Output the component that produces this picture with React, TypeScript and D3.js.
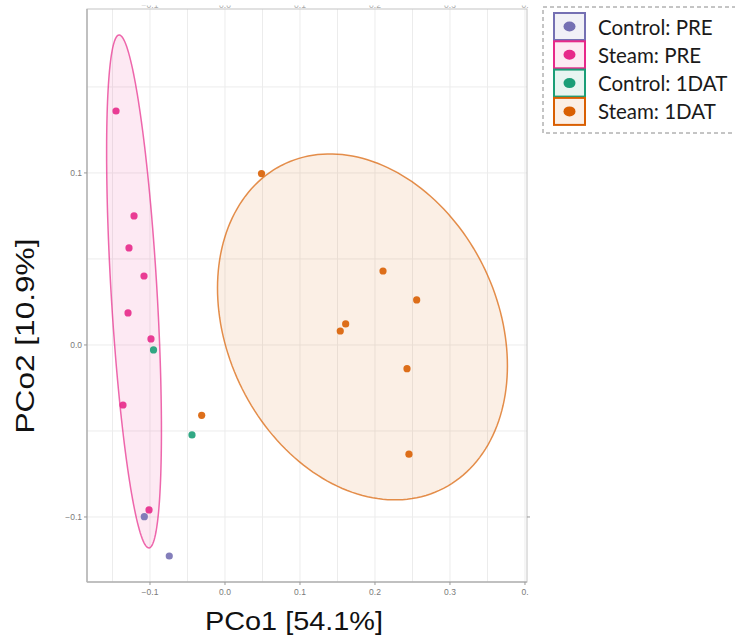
import * as d3 from 'd3';
import { useEffect, useRef } from 'react';

// groups, colours (RColorBrewer Dark2)
const groups = ['Control: PRE', 'Steam: PRE', 'Control: 1DAT', 'Steam: 1DAT'];
const groupColors = ['#7570b3', '#e7298a', '#1b9e77', '#d95f02'];

// PCo1 / PCo2 scores per group
const pco1ControlPre = [-0.1076, -0.0743];
const pco2ControlPre = [-0.0998, -0.1227];
const pco1SteamPre = [-0.1453, -0.1213, -0.128, -0.108, -0.1293, -0.0987, -0.136, -0.1013];
const pco2SteamPre = [0.136, 0.075, 0.0564, 0.0401, 0.0186, 0.0035, -0.0349, -0.0959];
const pco1Control1dat = [-0.0953, -0.044];
const pco2Control1dat = [-0.0029, -0.0523];
const pco1Steam1dat = [0.0487, 0.2107, 0.2556, 0.1609, 0.1537, 0.2427, 0.2453, -0.0311];
const pco2Steam1dat = [0.0996, 0.043, 0.0262, 0.0122, 0.0081, -0.0138, -0.0635, -0.0409];

// 95% ellipses: centre + two conjugate half-axes (data units)
const ellipseGroupIdx = [1, 3];
const ellipseCx = [-0.1213, 0.1833];
const ellipseCy = [0.0311, 0.0105];
const ellipseA = [[-0.02, 0.1491], [0.1933, -0.02254]];
const ellipseB = [[0.0306, 0.00078], [0, -0.098]];

const xTicks = [-0.1, 0.0, 0.1, 0.2, 0.3, 0.4];
const xMinor = [-0.15, -0.05, 0.05, 0.15, 0.25, 0.35];
const yTicks = [-0.1, 0.0, 0.1];
const yMinor = [-0.05, 0.05, 0.15];

const xTitle = 'PCo1 [54.1%]';
const yTitle = 'PCo2 [10.9%]';

function App() {
    const svgRef = useRef(null);

    useEffect(() => {
        const w = 735;
        const h = 643;
        const svg = d3.select(svgRef.current)
            .attr('width', w)
            .attr('height', h);
        svg.selectAll('*').remove();

        const left = 87, right = 527, top = 9, bottom = 582;

        const x = d3.scaleLinear().domain([-0.184, 0.4027]).range([left, right]);
        const y = d3.scaleLinear().domain([-0.1378, 0.1953]).range([bottom, top]);

        const fmt = (v) => (v < 0 ? '\u2212' : '') + Math.abs(v).toFixed(1);

        // clip for the cut-off top labels
        svg.append('clipPath').attr('id', 'topcut')
            .append('rect').attr('x', 0).attr('y', 5.5).attr('width', w).attr('height', 10);

        const panel = svg.append('g');
        panel.append('rect')
            .attr('x', left).attr('y', top)
            .attr('width', right - left).attr('height', bottom - top)
            .attr('fill', '#fff');

        // grid
        panel.selectAll('.gx')
            .data(xTicks.concat(xMinor).filter(v => x(v) < right - 1))
            .join('line')
            .attr('x1', d => x(d)).attr('x2', d => x(d))
            .attr('y1', top).attr('y2', bottom)
            .attr('stroke', '#ececec').attr('stroke-width', 1);
        panel.selectAll('.gy')
            .data(yTicks.concat(yMinor))
            .join('line')
            .attr('x1', left).attr('x2', right)
            .attr('y1', d => y(d)).attr('y2', d => y(d))
            .attr('stroke', '#ececec').attr('stroke-width', 1);

        // ellipses
        const line = d3.line().curve(d3.curveLinearClosed);
        ellipseGroupIdx.forEach((g, i) => {
            const pts = d3.range(0, 2 * Math.PI, Math.PI / 90).map(t => {
                const dx = ellipseCx[i] + ellipseA[i][0] * Math.cos(t) + ellipseB[i][0] * Math.sin(t);
                const dy = ellipseCy[i] + ellipseA[i][1] * Math.cos(t) + ellipseB[i][1] * Math.sin(t);
                return [x(dx), y(dy)];
            });
            panel.append('path')
                .attr('d', line(pts))
                .attr('fill', groupColors[g])
                .attr('fill-opacity', 0.1)
                .attr('stroke', groupColors[g])
                .attr('stroke-opacity', 0.7)
                .attr('stroke-width', 1.5);
        });

        // points
        const series = [
            [pco1ControlPre, pco2ControlPre],
            [pco1SteamPre, pco2SteamPre],
            [pco1Control1dat, pco2Control1dat],
            [pco1Steam1dat, pco2Steam1dat],
        ];
        series.forEach(([xs, ys], g) => {
            panel.selectAll('.p' + g)
                .data(xs.map((v, i) => [v, ys[i]]))
                .join('circle')
                .attr('cx', d => x(d[0]))
                .attr('cy', d => y(d[1]))
                .attr('r', 3.6)
                .attr('fill', groupColors[g])
                .attr('fill-opacity', 0.9);
        });

        // frame
        panel.append('rect')
            .attr('x', left).attr('y', top)
            .attr('width', right - left).attr('height', bottom - top)
            .attr('fill', 'none').attr('stroke', '#c4c4c4').attr('stroke-width', 1);
        panel.append('line').attr('x1', left).attr('x2', left).attr('y1', top).attr('y2', bottom)
            .attr('stroke', '#b4b4b4').attr('stroke-width', 1.5);
        panel.append('line').attr('x1', left).attr('x2', right).attr('y1', bottom).attr('y2', bottom)
            .attr('stroke', '#b4b4b4').attr('stroke-width', 1.5);

        const tickFont = 'Liberation Sans, Arial, sans-serif';

        // x axis ticks + labels
        const xa = svg.append('g');
        xa.selectAll('line').data(xTicks).join('line')
            .attr('x1', d => x(d)).attr('x2', d => x(d))
            .attr('y1', bottom).attr('y2', bottom + 3)
            .attr('stroke', '#999');
        xa.selectAll('text').data(xTicks).join('text')
            .attr('x', d => x(d)).attr('y', bottom + 13)
            .attr('text-anchor', 'middle')
            .attr('font-family', tickFont).attr('font-size', 8.5)
            .attr('fill', '#7a7a7a')
            .text(d => (x(d) > right - 4 ? '0.' : fmt(d)));

        // top (cropped) labels
        svg.append('g').attr('clip-path', 'url(#topcut)')
            .selectAll('text').data(xTicks).join('text')
            .attr('x', d => x(d)).attr('y', top - 1.5)
            .attr('text-anchor', 'middle')
            .attr('font-family', tickFont).attr('font-size', 8.5)
            .attr('fill', '#aaa')
            .text(d => (x(d) > right - 4 ? '0.' : fmt(d)));

        // y axis ticks + labels
        const ya = svg.append('g');
        ya.selectAll('line').data(yTicks).join('line')
            .attr('x1', left - 3).attr('x2', left)
            .attr('y1', d => y(d)).attr('y2', d => y(d))
            .attr('stroke', '#999');
        ya.selectAll('text').data(yTicks).join('text')
            .attr('x', left - 5).attr('y', d => y(d) + 3)
            .attr('text-anchor', 'end')
            .attr('font-family', tickFont).attr('font-size', 8.5)
            .attr('fill', '#7a7a7a')
            .text(d => fmt(d));
        // right side tick at -0.1
        svg.append('line')
            .attr('x1', right).attr('x2', right + 3)
            .attr('y1', y(-0.1)).attr('y2', y(-0.1))
            .attr('stroke', '#999');

        // axis titles
        svg.append('text')
            .attr('x', 294).attr('y', 630)
            .attr('text-anchor', 'middle')
            .attr('font-family', tickFont).attr('font-size', 26)
            .attr('textLength', 178).attr('lengthAdjust', 'spacingAndGlyphs')
            .attr('fill', '#111')
            .text(xTitle);
        svg.append('text')
            .attr('transform', 'translate(34,336) rotate(-90)')
            .attr('text-anchor', 'middle')
            .attr('font-family', tickFont).attr('font-size', 26)
            .attr('textLength', 195).attr('lengthAdjust', 'spacingAndGlyphs')
            .attr('fill', '#111')
            .text(yTitle);

        // legend
        const lg = svg.append('g');
        lg.append('rect')
            .attr('x', 543).attr('y', 7).attr('width', 210).attr('height', 126)
            .attr('fill', '#fff').attr('stroke', '#8a8a8a').attr('stroke-width', 1)
            .attr('stroke-dasharray', '4,3');
        const items = lg.selectAll('g.item').data(groups).join('g')
            .attr('transform', (d, i) => `translate(554, ${13 + i * 28.3})`);
        items.append('rect')
            .attr('width', 31).attr('height', 27)
            .attr('fill', (d, i) => d3.interpolateRgb(groupColors[i], '#fff')(0.9))
            .attr('stroke', (d, i) => groupColors[i]).attr('stroke-width', 2);
        items.append('ellipse')
            .attr('cx', 15.5).attr('cy', 13.5).attr('rx', 6).attr('ry', 5)
            .attr('fill', (d, i) => groupColors[i]);
        items.append('text')
            .attr('x', 44).attr('y', 21.5)
            .attr('font-family', 'Lato, Open Sans, sans-serif').attr('font-size', 20.5)
            .attr('fill', '#1a1a1a')
            .text(d => d);
    }, []);

    return (
        <div>
            <svg ref={svgRef} style={{ position: 'absolute', left: 0, top: 0 }}></svg>
        </div>
    );
}

export default App;
